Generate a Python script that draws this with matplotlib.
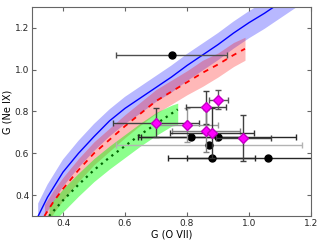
import matplotlib
matplotlib.use("Agg")
import matplotlib.pyplot as plt

# model curves (G ratios) with their uncertainty bands
blue_x = [0.32, 0.35, 0.40, 0.45, 0.50, 0.55, 0.60, 0.65, 0.70, 0.75, 0.80, 0.85, 0.90, 0.95, 1.00, 1.05, 1.10, 1.16]
blue_y = [0.30, 0.39, 0.51, 0.60, 0.68, 0.755, 0.815, 0.865, 0.915, 0.965, 1.02, 1.07, 1.12, 1.175, 1.225, 1.27, 1.32, 1.38]
blue_hi = [0.36, 0.45, 0.57, 0.66, 0.74, 0.81, 0.87, 0.92, 0.97, 1.02, 1.075, 1.125, 1.175, 1.23, 1.28, 1.325, 1.375, 1.43]
blue_lo = [0.24, 0.32, 0.44, 0.53, 0.61, 0.68, 0.74, 0.79, 0.845, 0.89, 0.945, 0.995, 1.045, 1.10, 1.15, 1.195, 1.245, 1.305]

red_x = [0.34, 0.37, 0.40, 0.45, 0.50, 0.55, 0.60, 0.65, 0.70, 0.75, 0.80, 0.85, 0.90, 0.95, 0.987]
red_y = [0.30, 0.37, 0.43, 0.52, 0.60, 0.665, 0.73, 0.79, 0.85, 0.895, 0.94, 0.985, 1.025, 1.07, 1.10]
red_hi = [0.355, 0.425, 0.485, 0.575, 0.655, 0.72, 0.785, 0.845, 0.905, 0.95, 0.995, 1.045, 1.08, 1.13, 1.155]
red_lo = [0.245, 0.315, 0.375, 0.465, 0.545, 0.61, 0.675, 0.735, 0.79, 0.835, 0.88, 0.92, 0.965, 1.015, 1.045]

green_x = [0.355, 0.40, 0.45, 0.50, 0.55, 0.60, 0.65, 0.70, 0.75, 0.77]
green_y = [0.30, 0.375, 0.45, 0.52, 0.58, 0.635, 0.69, 0.74, 0.79, 0.81]
green_hi = [0.35, 0.43, 0.505, 0.575, 0.635, 0.69, 0.745, 0.795, 0.83, 0.84]
green_lo = [0.25, 0.32, 0.395, 0.465, 0.525, 0.58, 0.635, 0.685, 0.73, 0.735]

# observed sources
black_x = [0.75, 0.812, 0.90, 0.872, 0.88, 1.06]
black_y = [1.068, 0.678, 0.678, 0.638, 0.576, 0.576]
black_xerr = [0.18, 0.17, 0.25, 0.30, 0.14, 0.26]
black_ecol = ["0.3", "0.15", "0.15", "0.7", "0.15", "0.15"]

mag_x = [0.70, 0.801, 0.861, 0.901, 0.861, 0.88, 0.982]
mag_y = [0.747, 0.736, 0.82, 0.857, 0.707, 0.696, 0.675]
mag_xerr = [0.14, 0.10, 0.065, 0.03, 0.11, 0.135, 0.09]
mag_yerr = [0.07, 0.08, 0.08, 0.045, 0.10, 0.12, 0.11]
mag_ecol = ["0.25", "0.6", "0.25", "0.35", "0.5", "0.2", "0.25"]

fig = plt.figure(figsize=(3.2, 2.4), dpi=100)
ax = fig.add_axes([0.1, 0.1, 0.872, 0.871])

ax.fill_between(blue_x, blue_lo, blue_hi, color="blue", alpha=0.28, lw=0)
ax.fill_between(red_x, red_lo, red_hi, color="red", alpha=0.28, lw=0)
ax.fill_between(green_x, green_lo, green_hi, color="lime", alpha=0.45, lw=0)
ax.plot(blue_x, blue_y, color="blue", lw=1)
ax.plot(red_x, red_y, color="red", lw=1.3, ls=(0, (3, 3)))
ax.plot(green_x, green_y, color="darkgreen", lw=1.6, ls=(0, (1, 2)))

for x, y, xe, c in zip(black_x, black_y, black_xerr, black_ecol):
    ax.errorbar(x, y, xerr=xe, fmt="o", color="black", ms=5, ecolor=c,
                elinewidth=1, capsize=2, zorder=4)

for x, y, xe, ye, c in zip(mag_x, mag_y, mag_xerr, mag_yerr, mag_ecol):
    ax.errorbar(x, y, xerr=xe, yerr=ye, fmt="D", mfc="magenta", mec="#c000c0",
                ms=5, ecolor=c, elinewidth=1, capsize=2, zorder=5)

ax.set_xlim(0.3, 1.2)
ax.set_ylim(0.3, 1.3)
ax.set_xticks([0.4, 0.6, 0.8, 1.0, 1.2])
ax.set_yticks([0.4, 0.6, 0.8, 1.0, 1.2])
ax.tick_params(direction="in", top=True, right=True, labelsize=6.5,
               length=3, pad=2, color="0.4", labelcolor="0.15")
for s in ax.spines.values():
    s.set_color("0.4")
ax.set_xlabel("G (O VII)", fontsize=7, labelpad=1)
ax.set_ylabel("G (Ne IX)", fontsize=7, labelpad=2)

fig.savefig("out.png", dpi=100)
